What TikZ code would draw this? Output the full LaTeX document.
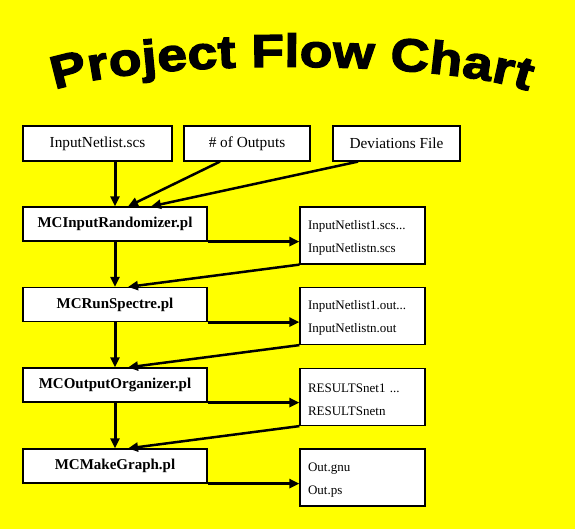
\documentclass[tikz,border=0pt]{standalone}
\usepackage{fontspec}
\setmainfont{Liberation Serif}
\newfontfamily\titlefont[FakeStretch=1.16,FakeBold=3,BoldFeatures={FakeBold=3,FakeStretch=1.16}]{Liberation Sans}
\usetikzlibrary{arrows.meta,decorations.text}
\definecolor{bgyellow}{RGB}{255,255,0}
\newcommand{\firststrut}{\rule{0pt}{13.5pt}}
\tikzset{
  box/.style={draw=black, line width=1.2pt, fill=white, inner sep=0pt},
  inbox/.style={box, minimum height=35pt, font=\fontsize{15.3}{18}\selectfont},
  procbox/.style={box, minimum width=184pt, minimum height=34pt, font=\bfseries\fontsize{15}{18}\selectfont},
  outbox/.style={box, minimum width=125pt, minimum height=57pt, inner xsep=8pt, align=left, text width=109pt, font=\fontsize{13}{23}\selectfont},
  arr/.style={draw=black, line width=3pt, -{Triangle[length=10pt,width=9pt]}},
  diag/.style={arr, line width=2.5pt}
}
\begin{document}
\begin{tikzpicture}[x=1pt,y=1pt]
\fill[bgyellow] (0,0) rectangle (575,-529);
\useasboundingbox (0,0) rectangle (575,-529);
% title
\path[decorate, decoration={text along path, text align=fit to path,
  text={|\titlefont\bfseries\fontsize{46}{46}\selectfont|Project Flow Chart}}]
  (55,-90) to[bend left=20, looseness=0.5] (528,-91);
% inputs
\node[inbox, minimum width=149pt] (in1) at (97.5,-143.5) {InputNetlist.scs};
\node[inbox, minimum width=126pt] (in2) at (247,-143.5) {\# of Outputs};
\node[inbox, minimum width=127pt] (in3) at (396.5,-143.5) {Deviations File};
% process
\node[procbox] (p1) at (115,-224) {MCInputRandomizer.pl};
\node[procbox] (p2) at (115,-304.5) {MCRunSpectre.pl};
\node[procbox] (p3) at (115,-385) {MCOutputOrganizer.pl};
\node[procbox] (p4) at (115,-466) {MCMakeGraph.pl};
% outputs
\node[outbox] (o1) at (362.5,-235.5) {\firststrut InputNetlist1.scs...\\InputNetlistn.scs};
\node[outbox] (o2) at (362.5,-316) {\firststrut InputNetlist1.out...\\InputNetlistn.out};
\node[outbox] (o3) at (362.5,-397) {\firststrut RESULTSnet1 ...\\RESULTSnetn};
\node[outbox] (o4) at (362.5,-477.5) {\firststrut Out.gnu\\Out.ps};
% arrows
\draw[arr] (in1.south -| p1.north) -- (p1.north);
\draw[diag] ([xshift=-27pt]in2.south) -- ([xshift=13pt]p1.north);
\draw[diag] ([xshift=-38.5pt]in3.south) -- ([xshift=36pt]p1.north);
\draw[arr] (p1.south east) -- (p1.south east -| o1.west);
\draw[diag] (o1.south west) -- ([xshift=13pt]p2.north);
\draw[arr] (p1.south) -- (p2.north);
\draw[arr] (p2.south east) -- (p2.south east -| o2.west);
\draw[diag] (o2.south west) -- ([xshift=13pt]p3.north);
\draw[arr] (p2.south) -- (p3.north);
\draw[arr] (p3.south east) -- (p3.south east -| o3.west);
\draw[diag] (o3.south west) -- ([xshift=13pt]p4.north);
\draw[arr] (p3.south) -- (p4.north);
\draw[arr] (p4.south east) -- (p4.south east -| o4.west);
\end{tikzpicture}
\end{document}
